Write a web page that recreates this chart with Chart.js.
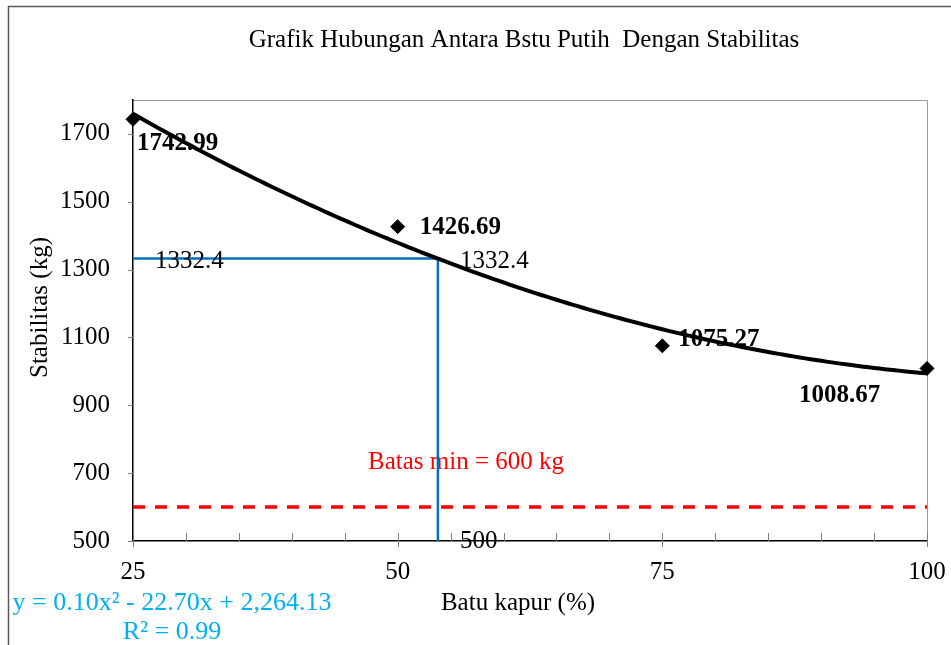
<!DOCTYPE html>
<html>
<head>
<meta charset="utf-8">
<script src="https://cdn.jsdelivr.net/npm/chart.js@4.4.1/dist/chart.umd.min.js"></script>
<style>
  html, body { margin: 0; padding: 0; background: #fff; }
  canvas { display: block; }
</style>
</head>
<body>
<canvas id="chart" width="951" height="645"></canvas>
<script>
// Stabilitas vs. persentase batu kapur
const batuKapur = [25, 50, 75, 100];
const stabilitas = [1742.99, 1426.69, 1075.27, 1008.67];
const xTickValues = [25, 50, 75, 100];
const yTickValues = [500, 700, 900, 1100, 1300, 1500, 1700];
// polynomial trend: y = a x^2 + b x + c
const trendCoefficients = [0.10, -22.70, 2264.13];
const batasMin = 600;
// reading of the trend line at the 1332.4 kg level
const refPoint = [53.8, 1332.4];
const refLabels = ['1332.4', '1332.4', '500'];
const titleText = 'Grafik Hubungan Antara Bstu Putih  Dengan Stabilitas';
const yTitle = 'Stabilitas (kg)';
const xTitle = 'Batu kapur (%)';
const batasLabel = 'Batas min = 600 kg';
const equationLines = ['y = 0.10x\u00B2 - 22.70x + 2,264.13', 'R\u00B2 = 0.99'];

const SERIF = '"Liberation Serif", "Times New Roman", serif';
const xMin = batuKapur[0], xMax = batuKapur[batuKapur.length - 1];

const trendData = [];
for (let x = xMin; x <= xMax; x += 0.5) {
  const [a, b, c] = trendCoefficients;
  trendData.push({ x, y: a * x * x + b * x + c });
}

const decorations = {
  id: 'decorations',
  beforeDraw(chart) {
    const ctx = chart.ctx;
    const a = chart.chartArea;
    ctx.save();
    // outer frame
    ctx.strokeStyle = '#595959';
    ctx.lineWidth = 1.5;
    ctx.beginPath();
    ctx.moveTo(8.5, chart.height + 2);
    ctx.lineTo(8.5, 6.5);
    ctx.lineTo(chart.width + 2, 6.5);
    ctx.stroke();
    // plot area top/right edges
    ctx.strokeStyle = '#9a9a9a';
    ctx.lineWidth = 1;
    ctx.beginPath();
    ctx.moveTo(a.left, a.top + 0.5);
    ctx.lineTo(a.right + 0.5, a.top + 0.5);
    ctx.lineTo(a.right + 0.5, a.bottom);
    ctx.stroke();
    // title
    ctx.fillStyle = '#000';
    ctx.font = '25px ' + SERIF;
    ctx.textAlign = 'center';
    ctx.textBaseline = 'middle';
    ctx.fillText(titleText, (a.left + a.right) / 2 - 6, 40);
    // axis titles
    ctx.fillText(xTitle, (a.left + a.right) / 2 - 12, 603);
    ctx.save();
    ctx.translate(40, (a.top + a.bottom) / 2 - 13);
    ctx.rotate(-Math.PI / 2);
    ctx.fillText(yTitle, 0, 0);
    ctx.restore();
    ctx.restore();
  },
  beforeDatasetsDraw(chart) {
    const ctx = chart.ctx;
    const xs = chart.scales.x, ys = chart.scales.y;
    const a = chart.chartArea;
    ctx.save();
    // value labels beside the points
    const offsets = [[4, 24], [22, 1], [16, -6], [-128, 27]];
    ctx.font = 'bold 25px ' + SERIF;
    ctx.fillStyle = '#000';
    ctx.textAlign = 'left';
    ctx.textBaseline = 'middle';
    stabilitas.forEach((v, i) => {
      const px = xs.getPixelForValue(batuKapur[i]);
      const py = ys.getPixelForValue(v);
      ctx.fillText(v.toFixed(2), px + offsets[i][0], py + offsets[i][1]);
    });
    // minimum limit label
    ctx.font = '25px ' + SERIF;
    ctx.fillStyle = '#ff0000';
    ctx.fillText(batasLabel, a.left + 235, ys.getPixelForValue(batasMin) - 45);
    ctx.restore();
  },
  afterDatasetsDraw(chart) {
    const ctx = chart.ctx;
    const xs = chart.scales.x, ys = chart.scales.y;
    const a = chart.chartArea;
    ctx.save();
    // reading labels
    ctx.font = '25px ' + SERIF;
    ctx.fillStyle = '#000';
    ctx.textAlign = 'left';
    ctx.textBaseline = 'middle';
    const rx = xs.getPixelForValue(refPoint[0]);
    const ry = ys.getPixelForValue(refPoint[1]);
    ctx.fillText(refLabels[0], xs.getPixelForValue(xMin) + 22, ry + 3);
    ctx.fillText(refLabels[1], rx + 22, ry + 3);
    ctx.fillText(refLabels[2], rx + 22, ys.getPixelForValue(ys.min));
    // tick marks
    ctx.strokeStyle = '#7f7f7f';
    ctx.lineWidth = 1;
    ctx.beginPath();
    yTickValues.forEach(v => {
      const y = Math.round(ys.getPixelForValue(v)) + 0.5;
      ctx.moveTo(a.left - 5, y);
      ctx.lineTo(a.left, y);
    });
    xTickValues.forEach(v => {
      const x = Math.round(xs.getPixelForValue(v)) + 0.5;
      ctx.moveTo(x, a.bottom - 8);
      ctx.lineTo(x, a.bottom + 6);
    });
    for (let v = xMin + 5; v < xMax; v += 5) {
      if (xTickValues.includes(v)) continue;
      const x = Math.round(xs.getPixelForValue(v)) + 0.5;
      ctx.moveTo(x, a.bottom - 8);
      ctx.lineTo(x, a.bottom);
    }
    ctx.stroke();
    // trend equation
    ctx.font = '26px ' + SERIF;
    ctx.fillStyle = '#00b0f0';
    ctx.textAlign = 'center';
    ctx.fillText(equationLines[0], 172, 603);
    ctx.fillText(equationLines[1], 172, 632);
    ctx.restore();
  }
};

new Chart(document.getElementById('chart'), {
  type: 'scatter',
  data: {
    datasets: [
      {
        label: 'Stabilitas',
        data: batuKapur.map((x, i) => ({ x, y: stabilitas[i] })),
        pointStyle: 'rectRot',
        pointRadius: 7,
        pointBackgroundColor: '#000',
        pointBorderColor: '#000',
        pointBorderWidth: 1,
        showLine: false,
        order: 0
      },
      {
        label: 'Trend',
        data: trendData,
        showLine: true,
        borderColor: '#000',
        borderWidth: 4,
        pointRadius: 0,
        tension: 0,
        order: 1
      },
      {
        label: 'Pembacaan',
        data: [
          { x: xMin, y: refPoint[1] },
          { x: refPoint[0], y: refPoint[1] },
          { x: refPoint[0], y: 500 }
        ],
        showLine: true,
        borderColor: '#0070c0',
        borderWidth: 2.5,
        pointRadius: 0,
        tension: 0,
        order: 2
      },
      {
        label: 'Batas min',
        data: [{ x: xMin, y: batasMin }, { x: xMax, y: batasMin }],
        showLine: true,
        borderColor: '#ff0000',
        borderWidth: 3.5,
        borderDash: [12, 10],
        pointRadius: 0,
        order: 3
      }
    ]
  },
  options: {
    responsive: false,
    animation: false,
    clip: false,
    layout: { padding: { left: 8, right: 24, top: 100, bottom: 0 } },
    plugins: {
      legend: { display: false },
      title: { display: false },
      tooltip: { enabled: false }
    },
    scales: {
      x: {
        type: 'linear',
        min: xMin,
        max: xMax,
        afterBuildTicks: s => { s.ticks = xTickValues.map(v => ({ value: v })); },
        afterFit: s => { s.height = 104; s.paddingLeft = 0; s.paddingRight = 0; },
        grid: { drawOnChartArea: false, drawTicks: false },
        border: { display: true, color: '#000', width: 1.5 },
        ticks: {
          padding: 16,
          color: '#000',
          font: { family: SERIF, size: 25 },
          maxRotation: 0,
          callback: v => String(v)
        }
      },
      y: {
        type: 'linear',
        min: 500,
        max: 1800,
        afterBuildTicks: s => { s.ticks = yTickValues.map(v => ({ value: v })); },
        afterFit: s => { s.width = 125; s.paddingTop = 0; s.paddingBottom = 0; },
        grid: { drawOnChartArea: false, drawTicks: false },
        border: { display: true, color: '#000', width: 1.5 },
        ticks: {
          padding: 23,
          color: '#000',
          font: { family: SERIF, size: 25 },
          callback: v => String(v)
        }
      }
    }
  },
  plugins: [decorations]
});
</script>
</body>
</html>
